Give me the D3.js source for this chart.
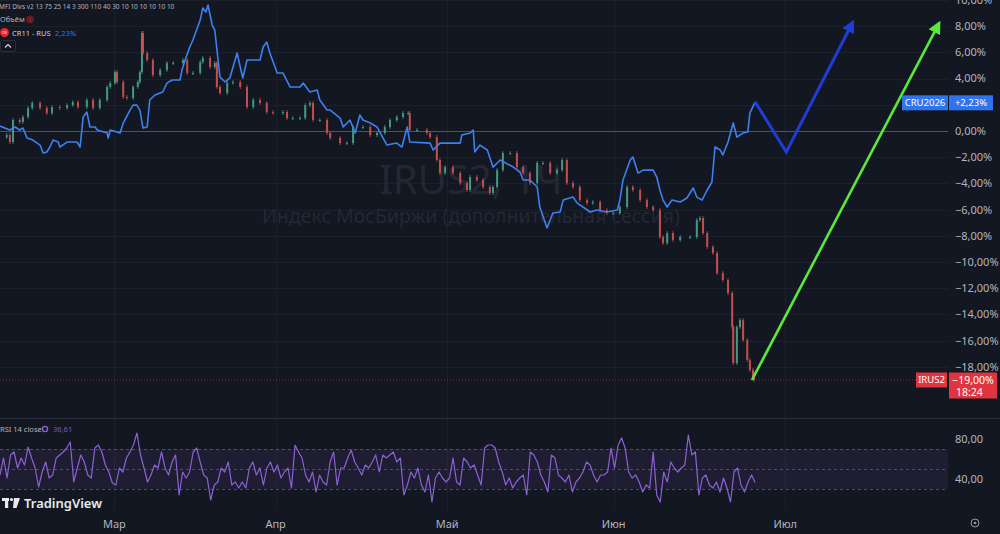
<!DOCTYPE html>
<html><head><meta charset="utf-8">
<script src="https://cdn.jsdelivr.net/npm/d3@7/dist/d3.min.js"></script>
<style>html,body{margin:0;padding:0;background:#131722;overflow:hidden}svg{display:block;font-family:"Noto Sans",Roboto,sans-serif}</style>
</head><body><svg id="c" width="1000" height="534"></svg>
<script>
// ---------- DATA ----------
const priceTicks = [10,8,6,4,2,0,-2,-4,-6,-8,-10,-12,-14,-16,-18];
const priceTickLabels = priceTicks.map(v => (v<0?"\u2212":"") + Math.abs(v).toFixed(2).replace(".", ",") + "%");
const rsiTicks = [80,40];
const rsiTickLabels = ["80,00","40,00"];
const rsiBands = [70,50,30];
const monthLabels = ["Мар","Апр","Май","Июн","Июл"];
const monthStarts = [22,53,86,118,151];

// CRU2026 (blue line), [session time, % change]
const cruSeries = [[0,0.38],[1.9,0.08],[2.9,0.31],[3.8,0.08],[4.4,0.23],[5.2,-0.53],[6.3,-0.69],[7.7,-1.07],[8.3,-1.68],[9.0,-1.60],[9.6,-1.22],[10.2,-0.69],[11.2,-0.84],[11.5,-1.22],[12.9,-0.84],[14.8,-0.84],[15.4,-1.22],[16.0,1.07],[16.7,1.45],[17.3,0.31],[18.3,0.31],[18.7,0.08],[20.6,-0.15],[20.8,-0.53],[21.2,0.08],[22.5,-0.08],[23.1,-0.15],[23.7,0.61],[25.0,1.60],[25.6,1.98],[26.3,1.98],[26.9,1.60],[27.5,0.23],[28.3,0.31],[28.8,2.37],[29.8,2.75],[30.8,2.90],[31.3,2.98],[32.1,3.66],[33.1,3.89],[34.6,3.89],[35.0,4.66],[35.6,5.42],[36.5,6.41],[37.1,6.95],[38.5,8.47],[39.0,9.39],[39.6,9.08],[40.0,9.62],[40.8,8.09],[41.3,7.71],[42.3,4.12],[43.3,3.74],[44.2,4.05],[45.6,5.95],[46.2,4.89],[46.7,4.05],[47.5,5.42],[48.7,5.42],[50.0,5.42],[50.6,6.41],[51.3,6.79],[51.9,5.95],[53.3,4.43],[54.4,4.43],[55.8,3.36],[57.7,3.36],[58.3,3.66],[59.6,2.98],[61.0,3.13],[61.5,2.37],[62.9,1.60],[63.5,1.60],[65.4,0.99],[66.0,0.31],[67.3,0.84],[68.3,-0.15],[69.2,1.22],[69.8,0.84],[71.2,0.61],[72.5,0.31],[74.4,-1.07],[76.3,-0.92],[77.3,-1.22],[78.3,0.31],[78.8,-0.84],[82.7,-0.92],[83.3,-1.45],[84.6,-0.92],[88.5,-0.92],[88.8,-0.31],[90.4,-0.15],[91.0,0.08],[91.3,-1.60],[92.3,-1.07],[93.7,-1.45],[94.8,-2.75],[96.2,-2.21],[98.7,-2.75],[100.0,-3.13],[100.6,-3.74],[101.9,-3.74],[103.3,-4.27],[103.8,-5.80],[105.2,-7.40],[105.8,-6.79],[106.3,-6.26],[107.7,-6.18],[108.3,-5.27],[110.2,-5.04],[111.0,-5.50],[112.1,-5.80],[113.5,-6.18],[114.8,-6.03],[116.7,-6.18],[118.7,-6.03],[119.2,-5.27],[119.8,-3.74],[121.2,-2.21],[121.7,-1.98],[122.7,-3.21],[123.7,-2.98],[125.6,-2.98],[126.3,-3.51],[126.9,-4.50],[127.5,-5.27],[128.3,-5.80],[129.2,-5.27],[130.8,-5.42],[132.1,-5.11],[133.3,-4.35],[134.0,-5.04],[135.0,-5.27],[136.0,-4.50],[136.9,-3.89],[137.5,-1.22],[138.5,-1.45],[139.0,-1.83],[140.0,-0.84],[141.0,0.61],[141.7,-0.46],[142.9,-0.15],[143.8,-0.08],[144.2,1.37],[145.2,2.23]];

// IRUS2 closes (candles), [session time, % change]
const irusSeries = [[0,-0.46],[1.3,-0.31],[1.9,-0.84],[2.5,0.84],[3.8,0.69],[4.4,1.07],[5.4,1.76],[6.2,2.14],[7.7,1.76],[9.0,1.37],[10.0,1.83],[11.5,1.76],[12.9,1.98],[14.0,2.21],[15.0,1.83],[16.7,2.37],[17.9,1.76],[19.2,2.37],[20.6,3.36],[21.2,3.66],[22.1,4.50],[22.5,3.74],[23.7,2.60],[24.4,2.52],[25.6,3.36],[26.5,3.74],[26.9,4.50],[27.3,7.48],[27.5,5.95],[28.3,5.42],[29.4,4.27],[30.8,4.66],[32.1,5.19],[33.3,5.19],[35.2,5.42],[36.0,4.43],[37.1,4.43],[38.5,5.27],[39.0,5.57],[40.4,4.89],[41.3,5.19],[41.7,3.36],[42.3,2.90],[43.7,3.66],[44.8,3.74],[46.2,3.36],[47.5,1.83],[48.7,2.37],[50.0,2.14],[51.3,1.45],[52.5,1.37],[54.4,1.45],[55.2,0.99],[56.3,0.99],[57.7,0.99],[58.7,1.98],[59.6,2.14],[60.2,0.84],[61.5,0.84],[62.9,-0.15],[63.5,-0.53],[65.4,-0.92],[66.7,-0.92],[67.9,0.31],[69.8,0.31],[71.2,-0.31],[72.5,-0.15],[74.0,0.31],[75.0,0.84],[76.3,1.07],[77.5,1.37],[78.5,1.37],[78.8,0.08],[80.2,0.08],[82.1,-0.15],[82.7,-0.46],[84.0,-2.21],[84.6,-3.21],[85.6,-2.75],[87.1,-3.21],[88.5,-3.97],[89.8,-4.50],[90.4,-3.51],[91.7,-3.74],[92.9,-4.27],[94.2,-4.73],[94.8,-4.27],[95.6,-2.98],[96.7,-1.68],[98.1,-1.68],[99.4,-2.75],[100.6,-3.21],[101.9,-3.97],[103.3,-2.44],[104.4,-2.44],[105.8,-3.21],[107.1,-2.98],[108.1,-2.21],[109.0,-3.97],[110.2,-4.27],[111.5,-5.27],[112.9,-5.50],[114.0,-5.42],[115.4,-6.03],[116.7,-6.26],[117.9,-6.26],[119.2,-5.80],[120.6,-4.27],[121.7,-4.50],[123.1,-5.27],[124.4,-5.80],[125.6,-6.03],[126.9,-8.09],[127.5,-8.55],[128.3,-7.79],[129.4,-8.32],[130.8,-8.09],[132.7,-8.09],[134.0,-6.79],[134.6,-6.64],[135.2,-7.79],[136.0,-8.85],[137.1,-9.31],[137.9,-10.84],[139.0,-11.37],[140.0,-12.37],[140.8,-14.96],[141.0,-17.71],[141.7,-14.96],[142.3,-14.43],[142.9,-15.95],[143.7,-17.48],[144.2,-18.24],[144.8,-18.78],[145.0,-19.00]];

// RSI 14 values, evenly spaced from session 0 to the last bar
const rsiValues = [44,61,41,64,67,51,61,54,72,61,51,32,47,57,41,44,61,64,67,71,77,37,51,64,57,44,41,71,74,67,54,47,36,34,51,47,61,67,74,86,64,51,37,44,54,51,67,51,44,57,64,24,47,41,47,67,71,57,44,41,19,34,37,51,47,57,34,37,31,37,31,
51,57,44,51,34,51,57,47,54,41,47,51,31,74,67,61,44,37,47,27,44,37,34,57,67,34,51,51,61,69,57,51,44,54,51,57,64,47,64,61,64,67,57,61,24,34,47,41,51,34,27,44,17,41,47,41,37,41,61,37,34,61,57,51,54,44,34,71,74,
74,71,57,47,34,41,31,37,41,44,24,67,64,57,44,37,27,64,61,44,41,37,44,27,37,41,47,57,54,44,37,44,44,47,71,51,74,81,71,47,41,44,37,27,34,31,67,24,17,47,37,57,51,47,51,54,84,64,67,24,41,44,34,31,37,27,41,31,17,47,51,34,27,37,44,36.61];
const rsiStart = 0, rsiEnd = 145.2;

// drawn forecast arrows, [session time, %]
const blueArrow = [[145.2,2.23],[151.2,-1.6],[164.0,8.32]];
const greenArrow = [[144.6,-19.0],[180.6,8.24]];

const cruLast = 2.23, irusLast = -19.00, rsiLast = "36,61";

// ---------- DRAW ----------
const W = 1000, H = 534, PW = 948;
const svg = d3.select("#c");
svg.append("rect").attr("width",W).attr("height",H).attr("fill","#131722");

const x = d3.scaleLinear().domain([0,182.3]).range([0,PW]);
const y = d3.scaleLinear().domain([10,-21.9]).range([0,418]);
const yr = d3.scaleLinear().domain([100,0]).range([419,519]);

const defs = svg.append("defs");
defs.append("clipPath").attr("id","mainClip").append("rect").attr("x",0).attr("y",0).attr("width",PW).attr("height",418);
defs.append("clipPath").attr("id","rsiClip").append("rect").attr("x",0).attr("y",419).attr("width",PW).attr("height",91);
function marker(id,color,size){
  defs.append("marker").attr("id",id).attr("viewBox","0 0 10 10").attr("refX",8).attr("refY",5)
    .attr("markerWidth",size).attr("markerHeight",size).attr("markerUnits","userSpaceOnUse").attr("orient","auto")
    .append("path").attr("d","M0,0 L10,5 L0,10 Z").attr("fill",color);
}
marker("mBlue","#1f3dd6",13);
marker("mGreen","#5ae83a",13);

// grid
const grid = svg.append("g");
grid.selectAll("line.h").data(priceTicks).join("line")
  .attr("x1",0).attr("x2",PW).attr("y1",d=>Math.round(y(d))+0.5).attr("y2",d=>Math.round(y(d))+0.5)
  .attr("stroke","#1c202b").attr("stroke-width",1);
grid.selectAll("line.v").data(monthStarts).join("line")
  .attr("x1",d=>Math.round(x(d))+0.5).attr("x2",d=>Math.round(x(d))+0.5).attr("y1",0).attr("y2",510)
  .attr("stroke","#1c202b").attr("stroke-width",1);

// watermark
svg.append("text").attr("x",471).attr("y",194).attr("text-anchor","middle").attr("font-size",40)
  .attr("fill","#232733").text("IRUS2, 1Ч");
svg.append("text").attr("x",471).attr("y",223).attr("text-anchor","middle").attr("font-size",19.5)
  .attr("fill","#232733").text("Индекс МосБиржи (дополнительная сессия)");

// zero line
svg.append("line").attr("x1",0).attr("x2",PW).attr("y1",Math.round(y(0))+0.5).attr("y2",Math.round(y(0))+0.5)
  .attr("stroke","#4f535e").attr("stroke-width",1);
// last price dotted line
svg.append("line").attr("x1",0).attr("x2",PW).attr("y1",y(irusLast)).attr("y2",y(irusLast))
  .attr("stroke","#f23645").attr("stroke-opacity",0.55).attr("stroke-dasharray","1,2");

// pane separator
svg.append("line").attr("x1",0).attr("x2",W).attr("y1",418.5).attr("y2",418.5).attr("stroke","#2a2e39");

const main = svg.append("g").attr("clip-path","url(#mainClip)");

// candles
const candles = irusSeries.slice(1).map((d,i)=>({t:d[0], o:irusSeries[i][1], c:d[1]}));
const upC = "#44987f", dnC = "#c24f4e";
main.append("g").selectAll("line").data(candles).join("line")
  .attr("x1",d=>x(d.t)).attr("x2",d=>x(d.t))
  .attr("y1",d=>y(Math.max(d.o,d.c))-2).attr("y2",d=>y(Math.min(d.o,d.c))+2)
  .attr("stroke",d=>d.c>=d.o?upC:dnC).attr("stroke-width",0.8);
main.append("g").selectAll("rect").data(candles).join("rect")
  .attr("x",d=>x(d.t)-1).attr("width",2)
  .attr("y",d=>y(Math.max(d.o,d.c)))
  .attr("height",d=>Math.max(1,Math.abs(y(d.o)-y(d.c))))
  .attr("fill",d=>d.c>=d.o?upC:dnC);

// blue CRU line
main.append("path").datum(cruSeries)
  .attr("d",d3.line().x(d=>x(d[0])).y(d=>y(d[1])))
  .attr("fill","none").attr("stroke","#3f80ee").attr("stroke-width",1.6).attr("stroke-linejoin","round");

// arrows
svg.append("path").datum(blueArrow)
  .attr("d",d3.line().x(d=>x(d[0])).y(d=>y(d[1])))
  .attr("fill","none").attr("stroke","#1f3dd6").attr("stroke-width",3).attr("stroke-linejoin","miter")
  .attr("marker-end","url(#mBlue)");
svg.append("path").datum(greenArrow)
  .attr("d",d3.line().x(d=>x(d[0])).y(d=>y(d[1])))
  .attr("fill","none").attr("stroke","#5ae83a").attr("stroke-width",2.6)
  .attr("marker-end","url(#mGreen)");

// price axis labels (the one hidden under the CRU2026 tag is not shown)
const tagY = y(cruLast)+1;
svg.append("g").selectAll("text").data(priceTicks.filter(d=>Math.abs(y(d)-tagY)>12)).join("text")
  .attr("x",955).attr("y",d=>y(d)).attr("dy","0.35em").attr("font-size",11).attr("fill","#b2b5be")
  .text(d=>priceTickLabels[priceTicks.indexOf(d)]);

// price tags
function tag(x0,x1,yc,h,color,txt){
  svg.append("rect").attr("x",x0).attr("y",yc-h/2).attr("width",x1-x0).attr("height",h).attr("fill",color);
  svg.append("text").attr("x",(x0+x1)/2).attr("y",yc).attr("dy","0.35em").attr("text-anchor","middle")
    .attr("font-size",9.5).attr("fill","#ffffff").text(txt);
}
tag(902,948,tagY,15,"#2f74ee","CRU2026");
tag(949,993,tagY,15,"#2f74ee","+2,23%");
const yi = y(irusLast);
tag(916,947,yi,15,"#e0343f","IRUS2");
svg.append("rect").attr("x",949).attr("y",yi-7.5).attr("width",48).attr("height",26).attr("fill","#e0343f");
svg.append("text").attr("x",973).attr("y",yi).attr("dy","0.35em").attr("text-anchor","middle").attr("font-size",10.5).attr("fill","#fff").text("\u221219,00%");
svg.append("text").attr("x",956).attr("y",yi+12.5).attr("dy","0.35em").attr("font-size",10.5).attr("fill","#fff").text("18:24");

// RSI pane
const rsi = svg.append("g").attr("clip-path","url(#rsiClip)");
rsi.append("rect").attr("x",0).attr("width",PW).attr("y",yr(70)).attr("height",yr(30)-yr(70))
  .attr("fill","#7e57c2").attr("fill-opacity",0.1);
rsi.selectAll("line.b").data(rsiBands).join("line")
  .attr("x1",0).attr("x2",PW).attr("y1",d=>yr(d)+0.5).attr("y2",d=>yr(d)+0.5)
  .attr("stroke","#787b86").attr("stroke-opacity",0.55).attr("stroke-dasharray","3,3");
const rsiStep = (rsiEnd-rsiStart)/(rsiValues.length-1);
rsi.append("path").datum(rsiValues)
  .attr("d",d3.line().x((d,i)=>x(rsiStart+i*rsiStep)).y(d=>yr(d)))
  .attr("fill","none").attr("stroke","#8d62d6").attr("stroke-width",1.2).attr("stroke-linejoin","round");
svg.append("g").selectAll("text").data(rsiTicks).join("text")
  .attr("x",955).attr("y",d=>yr(d)).attr("dy","0.35em").attr("font-size",11).attr("fill","#b2b5be")
  .text((d,i)=>rsiTickLabels[i]);

// RSI legend
svg.append("text").attr("x",0).attr("y",432).attr("font-size",7.5).attr("fill","#b2b5be").text("RSI 14 close");
svg.append("circle").attr("cx",45).attr("cy",429).attr("r",2.6).attr("fill","none").attr("stroke","#8d62d6").attr("stroke-width",1.4);
svg.append("text").attr("x",53).attr("y",432).attr("font-size",7.5).attr("fill","#7e57c2").text(rsiLast);

// time axis
svg.append("g").selectAll("text").data(monthStarts).join("text")
  .attr("x",d=>x(d)).attr("y",528).attr("text-anchor","middle").attr("font-size",11).attr("fill","#b2b5be")
  .text((d,i)=>monthLabels[i]);
svg.append("circle").attr("cx",975).attr("cy",523).attr("r",4).attr("fill","none").attr("stroke","#9598a1").attr("stroke-width",1);
svg.append("circle").attr("cx",975).attr("cy",523).attr("r",1.3).attr("fill","#9598a1");

// top legends
svg.append("text").attr("x",-1).attr("y",9).attr("font-size",6.5).attr("fill","#b2b5be")
  .text("MFI Divs v2 13 75 25 14 3 300 110 40 30 10 10 10 10 10 10");
svg.append("text").attr("x",0).attr("y",22).attr("font-size",7.5).attr("fill","#b2b5be").text("Объём");
svg.append("circle").attr("cx",30).attr("cy",19.5).attr("r",4).attr("fill","#5a1d24");
svg.append("text").attr("x",30).attr("y",22).attr("text-anchor","middle").attr("font-size",6).attr("fill","#f23645").text("!");
svg.append("circle").attr("cx",4.5).attr("cy",32.5).attr("r",4.5).attr("fill","#e8262b");
svg.append("text").attr("x",4.5).attr("y",34).attr("text-anchor","middle").attr("font-size",3.5).attr("fill","#fff").text("CR");
svg.append("text").attr("x",12).attr("y",35.5).attr("font-size",7.5).attr("fill","#d1d4dc").text("CR11 - RUS");
svg.append("text").attr("x",55).attr("y",35.5).attr("font-size",7.5).attr("fill","#2f74ee").text("2,23%");
svg.append("rect").attr("x",0.5).attr("y",40.5).attr("width",15).attr("height",11).attr("rx",2)
  .attr("fill","#131722").attr("stroke","#2a2e39");
svg.append("path").attr("d","M5,47.5 L8,44.5 L11,47.5").attr("fill","none").attr("stroke","#d1d4dc").attr("stroke-width",1.2);

// TradingView logo
const logo = svg.append("g").attr("fill","#e8e9ec");
logo.append("rect").attr("x",2).attr("y",498).attr("width",7).attr("height",3);
logo.append("rect").attr("x",5).attr("y",498).attr("width",3.2).attr("height",10);
logo.append("circle").attr("cx",11.5).attr("cy",499.5).attr("r",1.6);
logo.append("path").attr("d","M14,498 L20,498 L16.5,508 L13,508 Z");
svg.append("text").attr("x",24).attr("y",508).attr("font-size",13).attr("font-weight",600).attr("fill","#e8e9ec").text("TradingView");
</script></body></html>
